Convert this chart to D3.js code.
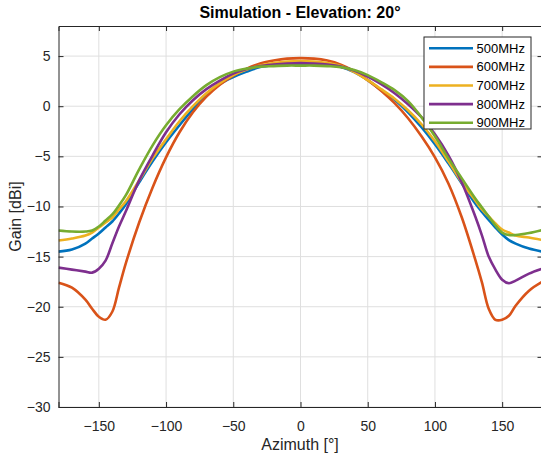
<!DOCTYPE html>
<html>
<head>
<meta charset="utf-8">
<script src="https://cdn.jsdelivr.net/npm/d3@7"></script>
<style>
  body { margin: 0; background: #fff; }
  text { font-family: "Liberation Sans", Arial, sans-serif; }
</style>
</head>
<body>
<svg id="chart_svg"></svg>
<script>
// azimuth samples (deg), denser around the side lobes
var azimuth = [-180, -170, -160, -155, -150, -145, -140, -135, -130,
  -120, -110, -100, -90, -80, -70, -60, -50, -40, -30, -20, -10, 0,
  10, 20, 30, 40, 50, 60, 70, 80, 90, 100, 110, 120,
  130, 135, 140, 145, 150, 155, 160, 170, 180];

var gain500 = [-14.5, -14.3, -13.7, -13.2, -12.7, -12.1, -11.5, -10.7, -9.8,
  -7.6, -5.5, -3.6, -1.9, -0.3, 1.1, 2.2, 2.9, 3.45, 3.9, 4.1, 4.2, 4.2,
  4.2, 4.1, 3.9, 3.4, 2.6, 1.6, 0.65, -0.6, -2.1, -3.8, -5.7, -7.7,
  -9.7, -10.55, -11.35, -12.1, -12.8, -13.35, -13.7, -14.2, -14.5];

var gain600 = [-17.6, -18.1, -19.3, -20.2, -21.0, -21.3, -20.5, -18.1, -15.7,
  -11.6, -8.1, -5.1, -2.6, -0.6, 0.95, 2.15, 3.05, 3.75, 4.25, 4.55, 4.75, 4.8,
  4.75, 4.55, 4.15, 3.5, 2.6, 1.55, 0.3, -1.2, -3.0, -5.1, -7.7, -11.1,
  -15.3, -17.6, -20.2, -21.3, -21.3, -20.9, -19.9, -18.4, -17.5];

var gain700 = [-13.4, -13.2, -12.9, -12.6, -12.1, -11.6, -11.1, -10.3, -9.5,
  -7.4, -5.2, -3.3, -1.5, 0.0, 1.3, 2.3, 3.1, 3.65, 4.05, 4.3, 4.45, 4.5,
  4.45, 4.3, 4.0, 3.4, 2.6, 1.7, 0.75, -0.4, -1.8, -3.5, -5.5, -7.6,
  -9.4, -10.3, -11.0, -11.7, -12.3, -12.6, -12.9, -13.1, -13.35];

var gain800 = [-16.1, -16.3, -16.5, -16.6, -16.2, -15.4, -13.7, -12.0, -10.5,
  -7.4, -4.9, -2.6, -0.8, 0.6, 1.7, 2.55, 3.25, 3.7, 4.0, 4.15, 4.25, 4.3,
  4.25, 4.15, 3.95, 3.55, 2.95, 2.2, 1.3, 0.2, -1.1, -2.8, -4.9, -7.6,
  -11.0, -12.9, -15.0, -16.3, -17.3, -17.65, -17.4, -16.7, -16.2];

var gain900 = [-12.4, -12.5, -12.5, -12.4, -12.0, -11.4, -10.8, -9.9, -8.9,
  -6.3, -3.9, -1.9, -0.3, 1.0, 2.1, 2.9, 3.45, 3.75, 3.95, 4.0, 4.05, 4.05,
  4.05, 4.0, 3.9, 3.6, 3.1, 2.4, 1.6, 0.5, -1.1, -3.0, -5.2, -7.2,
  -9.2, -10.1, -11.0, -11.9, -12.6, -12.85, -12.85, -12.65, -12.35];

var seriesNames = ["500MHz", "600MHz", "700MHz", "800MHz", "900MHz"];
var seriesColors = ["#0072BD", "#D95319", "#EDB120", "#7E2F8E", "#77AC30"];
var xTicks = [-150, -100, -50, 0, 50, 100, 150];
var yTicks = [-30, -25, -20, -15, -10, -5, 0, 5];

var width = 541,
  height = 459;
var margin = { left: 58.5, right: -1.5, top: 26, bottom: 52 };

var svg = d3.select("#chart_svg").attr("width", width).attr("height", height);

var x = d3
  .scaleLinear()
  .domain([-180, 180])
  .range([margin.left, width - margin.right]);

var y = d3
  .scaleLinear()
  .domain([-30, 8])
  .range([height - margin.bottom, margin.top]);

var axisColor = "#262626";

// grid lines
svg
  .append("g")
  .selectAll("line")
  .data(xTicks)
  .join("line")
  .attr("x1", (d) => x(d))
  .attr("x2", (d) => x(d))
  .attr("y1", y(-30))
  .attr("y2", y(8))
  .attr("stroke", "#dfdfdf")
  .attr("stroke-width", 1);

svg
  .append("g")
  .selectAll("line")
  .data(yTicks)
  .join("line")
  .attr("x1", x(-180))
  .attr("x2", x(180))
  .attr("y1", (d) => y(d))
  .attr("y2", (d) => y(d))
  .attr("stroke", "#dfdfdf")
  .attr("stroke-width", 1);

// clip lines to the plot box
svg
  .append("clipPath")
  .attr("id", "plot_clip")
  .append("rect")
  .attr("x", x(-180))
  .attr("y", y(8))
  .attr("width", x(180) - x(-180))
  .attr("height", y(-30) - y(8));

var allSeries = [gain500, gain600, gain700, gain800, gain900];

var line = d3
  .line()
  .x((d, i) => x(azimuth[i]))
  .y((d) => y(d))
  .curve(d3.curveCatmullRom.alpha(0.5));

svg
  .append("g")
  .attr("clip-path", "url(#plot_clip)")
  .selectAll("path")
  .data(allSeries)
  .join("path")
  .attr("d", (d) => line(d))
  .attr("fill", "none")
  .attr("stroke", (d, i) => seriesColors[i])
  .attr("stroke-width", 2.6)
  .attr("stroke-linejoin", "round");

// axes (ticks point inwards like matlab)
var xAxis = d3.axisBottom(x).tickValues(xTicks).tickSize(-5).tickPadding(14);
var yAxis = d3.axisLeft(y).tickValues(yTicks).tickSize(-5).tickPadding(8);

svg
  .append("g")
  .attr("transform", "translate(0," + y(-30) + ")")
  .call(xAxis);
svg
  .append("g")
  .attr("transform", "translate(" + x(-180) + ",0)")
  .call(yAxis);

// top and right ticks
svg
  .append("g")
  .attr("transform", "translate(0," + y(8) + ")")
  .call(d3.axisTop(x).tickValues(xTicks).tickSize(-5).tickFormat(""));
svg
  .append("g")
  .attr("transform", "translate(" + x(180) + ",0)")
  .call(d3.axisRight(y).tickValues(yTicks).tickSize(-5).tickFormat(""));

svg.selectAll(".domain, .tick line").attr("stroke", axisColor);
svg
  .selectAll(".tick text")
  .attr("fill", axisColor)
  .style("font-size", "14px")
  .style("font-family", '"Liberation Sans", Arial, sans-serif');

// title and axis labels
svg
  .append("text")
  .attr("x", 300)
  .attr("y", 18)
  .attr("text-anchor", "middle")
  .style("font-size", "16px")
  .style("font-weight", "bold")
  .attr("fill", "#000")
  .text("Simulation - Elevation: 20°");

svg
  .append("text")
  .attr("x", 300)
  .attr("y", 450)
  .attr("text-anchor", "middle")
  .style("font-size", "16px")
  .attr("fill", axisColor)
  .text("Azimuth [°]");

svg
  .append("text")
  .attr("transform", "translate(21," + (y(-30) + y(8)) / 2 + ") rotate(-90)")
  .attr("text-anchor", "middle")
  .style("font-size", "16px")
  .attr("fill", axisColor)
  .text("Gain [dBi]");

// legend
var legend = svg.append("g").attr("transform", "translate(424,37)");
legend
  .append("rect")
  .attr("width", 107)
  .attr("height", 92)
  .attr("fill", "#fff")
  .attr("stroke", axisColor)
  .attr("stroke-width", 1);

var entry = legend
  .selectAll("g")
  .data(seriesNames)
  .join("g")
  .attr("transform", (d, i) => "translate(0," + (11.3 + i * 18.6) + ")");

entry
  .append("line")
  .attr("x1", 5)
  .attr("x2", 49)
  .attr("stroke", (d, i) => seriesColors[i])
  .attr("stroke-width", 2.6);

entry
  .append("text")
  .attr("x", 52.5)
  .attr("dy", "0.35em")
  .style("font-size", "13px")
  .attr("fill", "#000")
  .text((d) => d);
</script>
</body>
</html>
